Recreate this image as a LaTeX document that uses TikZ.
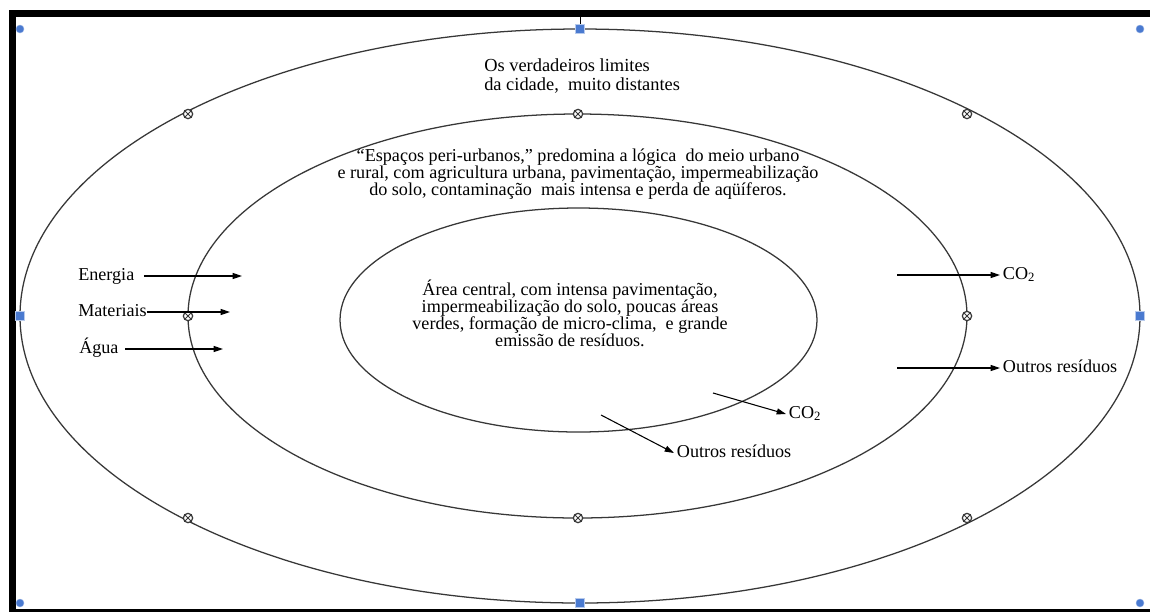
\documentclass[tikz,border=0pt]{standalone}
\usepackage{fontspec}
\setmainfont{Liberation Serif}
\usetikzlibrary{positioning, calc, shapes, arrows, arrows.meta}

\definecolor{handleblue}{RGB}{74,122,208}
\definecolor{ringgray}{RGB}{55,55,55}

\begin{document}
\begin{tikzpicture}[x=0.75pt, y=-0.75pt,
		ring/.style = {draw=ringgray, line width=0.95pt},
		txt/.style = {font=\fontsize{13.6}{12.8}\selectfont, inner sep=0pt},
		lbl/.style = {txt, text height=9pt, text depth=3pt},
		flow/.style = {-{Triangle[length=7pt, width=4.5pt]}, line width=0.8pt},
		xmark/.style = {draw=ringgray, fill=white, circle, line width=0.9pt, minimum size=7pt, inner sep=0pt,
			path picture={\draw[ringgray, line width=0.6pt] (path picture bounding box.south west) -- (path picture bounding box.north east)
				(path picture bounding box.north west) -- (path picture bounding box.south east);}},
		rhandle/.style = {circle, fill=handleblue, draw=handleblue!60!white, line width=0.3pt, minimum size=6pt, inner sep=0pt},
		shandle/.style = {rectangle, fill=handleblue, draw=handleblue!40!white, line width=0.5pt, minimum size=6.5pt, inner sep=0pt}]
	\useasboundingbox (0,0) rectangle (1150,612);
	\fill[white] (0,0) rectangle (1150,612);
	% frame
	\fill[black] (9,10) rectangle (1150,17);
	\fill[black] (9,10) rectangle (16,612);
	\fill[black] (9,609) rectangle (1150,612);

	% the three zones
	\draw[ring] (580,316) ellipse [x radius=560, y radius=287];
	\draw[ring] (577.5,316) ellipse [x radius=389.5, y radius=202];
	\draw[ring] (578.5,320) ellipse [x radius=238.5, y radius=112];

	\foreach \px/\py in {188/114, 578/114, 967/114, 188/316, 967/316, 188/518, 578/518, 967/518}
		\node[xmark] at (\px,\py) {};

	% selection handles
	\coordinate (stemTop) at (580,17);
	\foreach \px/\py in {20/29, 1140/29, 20/603, 1140/603}
		\node[rhandle] at (\px,\py) {};
	\node[shandle] (topHandle) at (580,29) {};
	\draw[line width=0.6pt] (stemTop) -- (topHandle);
	\foreach \px/\py in {20/316, 1140/316, 580/603}
		\node[shandle] at (\px,\py) {};

	% texts
	\node[txt, font=\fontsize{13.8}{14.2}\selectfont, anchor=west, align=left] (limites) at (484,76)
		{Os verdadeiros limites\\da cidade,~ muito distantes};
	\node[txt, align=center] (periurb) at (578,174)
		{“Espaços peri-urbanos,” predomina a lógica~ do meio urbano\\
		e rural, com agricultura urbana, pavimentação, impermeabilização\\
		do solo, contaminação~ mais intensa e perda de aqüíferos.};
	\node[txt, align=center] (central) at (570,313)
		{Área central, com intensa pavimentação,\\
		impermeabilização do solo, poucas áreas\\
		verdes, formação de micro-clima,~ e grande\\
		emissão de resíduos.};

	% inputs
	\node[lbl, anchor=west] (energia) at (78,276) {Energia};
	\node[lbl, anchor=west] (materiais) at (78,312) {Materiais};
	\node[lbl, anchor=west] (agua) at (79,349) {Água};
	\coordinate (energiaTip) at (242,276);
	\coordinate (materiaisTip) at (230,312);
	\coordinate (aguaTip) at (223,349);
	\draw[flow] ([xshift=7pt]energia.east) -- (energiaTip);
	\draw[flow] (materiais.east) -- (materiaisTip);
	\draw[flow] ([xshift=5pt]agua.east) -- (aguaTip);

	% outputs
	\node[lbl, anchor=west, inner xsep=2pt] (co2out) at (1000,275) {CO\textsubscript{2}};
	\node[lbl, anchor=west, inner xsep=2pt] (residuosout) at (1000,368) {Outros resíduos};
	\coordinate (co2outStart) at (897,275);
	\coordinate (residuosoutStart) at (897,368);
	\draw[flow] (co2outStart) -- (co2out);
	\draw[flow] (residuosoutStart) -- (residuosout);

	\node[lbl, anchor=west, inner xsep=2pt] (co2in) at (786,414) {CO\textsubscript{2}};
	\node[lbl, anchor=west, inner xsep=2pt] (residuosin) at (674,453) {Outros resíduos};
	\coordinate (co2inStart) at (713,393);
	\coordinate (residuosinStart) at (601,415);
	\draw[flow] (co2inStart) -- (co2in.west);
	\draw[flow] (residuosinStart) -- (residuosin.west);
\end{tikzpicture}
\end{document}
